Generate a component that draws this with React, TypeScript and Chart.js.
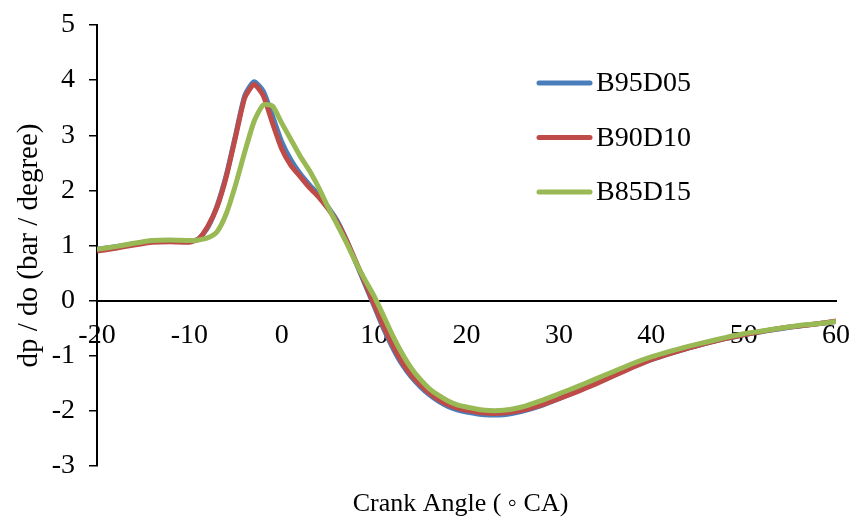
import React, { useEffect, useRef } from "react";
import { Chart, registerables } from "chart.js";

Chart.register(...registerables);

const crankAngle = [
  -20, -18, -16, -14, -12, -10, -9, -8, -7, -6, -5, -4, -3, -2, -1, 0, 1, 2, 3, 4,
  5, 6, 7, 8, 9, 10, 11, 12, 13, 14, 15, 16, 17, 18, 19, 20, 22, 24, 26, 28, 30,
  32, 34, 36, 38, 40, 42, 44, 46, 48, 50, 52, 54, 56, 58, 60,
];

const b95d05 = [
  0.93, 0.98, 1.03, 1.08, 1.09, 1.08, 1.12, 1.33, 1.72, 2.28, 3.0, 3.72, 3.97, 3.8,
  3.35, 2.88, 2.55, 2.3, 2.1, 1.92, 1.7, 1.45, 1.1, 0.7, 0.3, -0.1, -0.5, -0.85,
  -1.15, -1.38, -1.56, -1.71, -1.83, -1.92, -1.98, -2.02, -2.07, -2.07, -2.01,
  -1.91, -1.78, -1.64, -1.5, -1.35, -1.2, -1.07, -0.96, -0.86, -0.77, -0.69, -0.62,
  -0.56, -0.51, -0.46, -0.42, -0.38,
];

const b90d10 = [
  0.9, 0.95, 1.01, 1.06, 1.07, 1.06, 1.12, 1.35, 1.7, 2.25, 2.97, 3.68, 3.92, 3.72,
  3.22, 2.75, 2.45, 2.25, 2.05, 1.88, 1.67, 1.42, 1.1, 0.72, 0.33, -0.07, -0.46,
  -0.81, -1.11, -1.35, -1.53, -1.68, -1.8, -1.89, -1.95, -1.99, -2.04, -2.04, -1.99,
  -1.9, -1.78, -1.65, -1.51, -1.36, -1.21, -1.07, -0.96, -0.86, -0.77, -0.69, -0.62,
  -0.56, -0.5, -0.46, -0.42, -0.37,
];

const b85d15 = [
  0.93, 0.98, 1.04, 1.09, 1.1, 1.09, 1.1, 1.14, 1.25, 1.58, 2.1, 2.7, 3.25, 3.55,
  3.53, 3.22, 2.92, 2.62, 2.36, 2.05, 1.7, 1.38, 1.05, 0.7, 0.38, 0.08, -0.27,
  -0.63, -0.95, -1.22, -1.43, -1.6, -1.72, -1.82, -1.89, -1.93, -1.99, -1.99, -1.93,
  -1.82, -1.69, -1.56, -1.42, -1.28, -1.14, -1.02, -0.92, -0.83, -0.75, -0.67, -0.6,
  -0.55, -0.5, -0.45, -0.42, -0.38,
];

const seriesNames = ["B95D05", "B90D10", "B85D15"];
const seriesColors = ["#4A7EBB", "#BE4B48", "#98B954"];
const xTitle = "Crank Angle ( \u25E6 CA)";
const yTitle = "dp / do (bar / degree)";

const FONT_FAMILY = '"Liberation Serif", "Times New Roman", serif';

const overlayPlugin = {
  id: "overlay",
  afterDraw(chart: any) {
    const ctx = chart.ctx as CanvasRenderingContext2D;
    const area = chart.chartArea;
    ctx.save();
    ctx.fillStyle = "#000";
    ctx.textBaseline = "middle";
    ctx.font = `26px ${FONT_FAMILY}`;
    ctx.textAlign = "center";
    ctx.fillText(xTitle, (area.left + area.right) / 2 - 6, 504);
    ctx.font = `28px ${FONT_FAMILY}`;
    chart.data.datasets.forEach((ds: any, i: number) => {
      const y = 83 + i * 54.5;
      ctx.strokeStyle = ds.borderColor;
      ctx.lineWidth = 5;
      ctx.lineCap = "round";
      ctx.beginPath();
      ctx.moveTo(539, y);
      ctx.lineTo(590, y);
      ctx.stroke();
      ctx.textAlign = "left";
      ctx.fillText(ds.label, 596, y + 1);
    });
    ctx.restore();
  },
};

export default function App() {
  const canvasRef = useRef<HTMLCanvasElement | null>(null);

  useEffect(() => {
    document.body.style.margin = "0";
    const canvas = canvasRef.current;
    if (!canvas) return;
    const seriesValues = [b95d05, b90d10, b85d15];
    const font = { family: FONT_FAMILY, size: 28 };
    const chart = new Chart(canvas, {
      type: "line",
      data: {
        datasets: seriesValues.map((vals, i) => ({
          label: seriesNames[i],
          data: crankAngle.map((x, j) => ({ x, y: vals[j] })),
          borderColor: seriesColors[i],
          backgroundColor: seriesColors[i],
          borderWidth: 5,
          pointRadius: 0,
          tension: 0.2,
          fill: false,
          order: 3 - i,
        })),
      },
      options: {
        animation: false,
        responsive: false,
        devicePixelRatio: 1,
        layout: { padding: { top: 25, right: 16, bottom: 54, left: 0 } },
        plugins: {
          legend: { display: false },
          tooltip: { enabled: false },
          title: { display: false },
        },
        scales: {
          x: {
            type: "linear",
            position: { y: 0 } as any,
            min: -20,
            max: 60,
            ticks: { stepSize: 10, color: "#000", font, padding: 10, maxRotation: 0 },
            grid: { display: false },
            border: { display: true, color: "#000", width: 2 },
            afterFit(scale: any) {
              scale.paddingLeft = 0;
              scale.paddingRight = 0;
            },
          },
          y: {
            type: "linear",
            min: -3,
            max: 5,
            ticks: { stepSize: 1, color: "#000", font, padding: 14 },
            grid: {
              drawOnChartArea: false,
              drawTicks: true,
              tickLength: 8,
              color: "#000",
              lineWidth: 1.5,
            },
            border: { display: true, color: "#000", width: 2 },
            title: {
              display: true,
              text: yTitle,
              color: "#000",
              font: { family: FONT_FAMILY, size: 29 },
              padding: { top: 12, bottom: 0 },
            },
            afterFit(scale: any) {
              scale.width = 97;
              scale.paddingTop = 0;
              scale.paddingBottom = 0;
            },
          },
        },
      },
      plugins: [overlayPlugin],
    });
    return () => chart.destroy();
  }, []);

  return (
    <div style={{ width: 852, height: 520 }}>
      <canvas ref={canvasRef} width={852} height={520} style={{ display: "block" }} />
    </div>
  );
}
